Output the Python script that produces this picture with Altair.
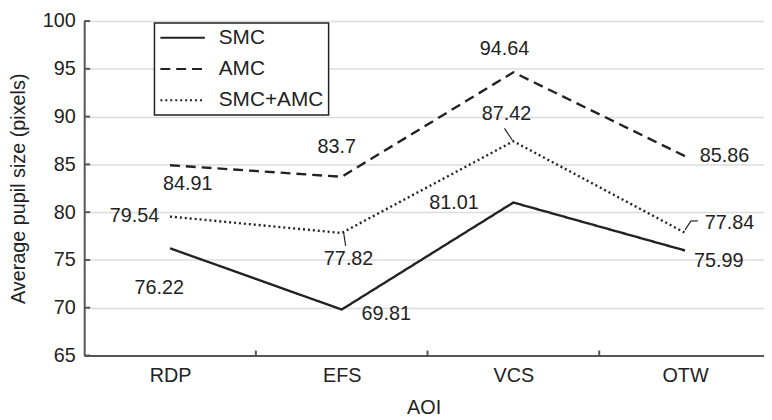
import json
import altair as alt
import pandas as pd

# ---------------- data ----------------
categories = ["RDP", "EFS", "VCS", "OTW"]
series_names = ["SMC", "AMC", "SMC+AMC"]
smc = [76.22, 69.81, 81.01, 75.99]
amc = [84.91, 83.7, 94.64, 85.86]
smc_amc = [79.54, 77.82, 87.42, 77.84]
y_ticks = [65, 70, 75, 80, 85, 90, 95, 100]
x_boundaries = [0.5, 1.5, 2.5]

# label placement: pixel offsets of each value label from its point
label_dx = {"SMC": [-11, 45, -60, 34], "AMC": [18, -5, -9, 40], "SMC+AMC": [-36, 7, -7, 45]}
label_dy = {"SMC": [40, 5, 1, 11], "AMC": [19, -30, -23, 0], "SMC+AMC": [0, 26, -27, -10]}
# leader lines: (series, category index, dx1, dy1, dx2, dy2) in pixels from the point
leaders = [
    ("SMC+AMC", 1, 2, 0, 4, 13),
    ("SMC+AMC", 2, -1, -1, -9, -13),
    ("SMC+AMC", 3, 0, -3, 6, -12),
    ("SMC+AMC", 3, 6, -12, 13, -12),
]

# ---------------- layout ----------------
W, H = 687, 338
Y_MIN, Y_MAX = 65, 100
X_MIN, X_MAX = -0.5, 3.46   # right end of the axis runs off the picture
px_x = W / (X_MAX - X_MIN)
px_y = H / (Y_MAX - Y_MIN)
FONT = "Liberation Sans"
INK = "#222222"
NBSP = "\u00a0"

values = {"SMC": smc, "AMC": amc, "SMC+AMC": smc_amc}

rows = []
for s in series_names:
    for i, c in enumerate(categories):
        v = values[s][i]
        rows.append({
            "series": s, "idx": i, "cat": c, "value": v,
            "label": str(v),
            "lx": i + label_dx[s][i] / px_x,
            "ly": v - label_dy[s][i] / px_y,
        })
df = pd.DataFrame(rows)

lead_rows = []
for s, i, dx1, dy1, dx2, dy2 in leaders:
    v = values[s][i]
    lead_rows.append({
        "x1": i + dx1 / px_x, "y1": v - dy1 / px_y,
        "x2": i + dx2 / px_x, "y2": v - dy2 / px_y,
    })
lead_df = pd.DataFrame(lead_rows)

xscale = alt.Scale(domain=[X_MIN, X_MAX], nice=False, zero=False)
yscale = alt.Scale(domain=[Y_MIN, Y_MAX], nice=False, zero=False)

label_expr = json.dumps(categories) + "[datum.value]"

x_axis = alt.Axis(
    values=[0, 1, 2, 3], labelExpr=label_expr, grid=False, tickSize=0,
    labelPadding=10.5, labelFontSize=20, labelColor=INK, labelFlush=False,
    title="AOI", titleFontSize=20, titleFontWeight="normal", titleColor=INK,
    titlePadding=12, titleX=343, domainColor="#555555", domainWidth=2)
y_axis = alt.Axis(
    values=y_ticks, grid=True, gridColor="#dcdcdc", gridWidth=1.5, tickSize=0,
    labelPadding=9, labelFontSize=20, labelColor=INK,
    title="Average pupil size (pixels)", titleFontSize=20, titleFontWeight="normal",
    titleColor=INK, titlePadding=14, domainColor="#555555", domainWidth=2)

lines = alt.Chart(df).mark_line(strokeWidth=2.4, color=INK).encode(
    x=alt.X("idx:Q", scale=xscale, axis=x_axis),
    y=alt.Y("value:Q", scale=yscale, axis=y_axis),
    strokeDash=alt.StrokeDash("series:N", scale=alt.Scale(
        domain=series_names, range=[[1, 0], [10, 6], [2, 3]]),
        legend=alt.Legend(
            orient="none", legendX=71, legendY=2, title=None,
            symbolType="stroke", symbolSize=2025, symbolStrokeWidth=2,
            symbolStrokeColor=INK, labelFontSize=21, labelColor=INK, labelFont=FONT,
            labelOffset=13, padding=5, rowPadding=10.5, clipHeight=20,
            labelExpr="datum.label + '" + NBSP * 3 + "'",
            strokeColor=INK, fillColor="white")),
    detail="series:N",
    order="idx:Q",
)

texts = alt.Chart(df).mark_text(fontSize=20, font=FONT, color=INK).encode(
    x=alt.X("lx:Q", scale=xscale, axis=x_axis),
    y=alt.Y("ly:Q", scale=yscale, axis=y_axis),
    text="label:N",
)

leader_lines = alt.Chart(lead_df).mark_rule(color=INK, strokeWidth=1.2).encode(
    x=alt.X("x1:Q", scale=xscale, axis=x_axis),
    y=alt.Y("y1:Q", scale=yscale, axis=y_axis),
    x2="x2:Q",
    y2="y2:Q",
)

ytick_marks = alt.Chart(pd.DataFrame({"t": y_ticks})).mark_rule(
    color="#555555", strokeWidth=2).encode(
    y=alt.Y("t:Q", scale=yscale, axis=y_axis),
    x=alt.value(0),
    x2=alt.value(6),
)

xtick_marks = alt.Chart(pd.DataFrame({"b": x_boundaries})).mark_rule(
    color="#555555", strokeWidth=2).encode(
    x=alt.X("b:Q", scale=xscale, axis=x_axis),
    y=alt.value(H),
    y2=alt.value(H - 5),
)

chart = alt.layer(ytick_marks, xtick_marks, lines, leader_lines, texts).properties(
    width=W, height=H,
    padding={"left": 77, "top": 11, "right": 0, "bottom": 63},
    autosize=alt.AutoSizeParams(type="none"),
).configure_view(stroke=None).configure_axis(
    labelFont=FONT, titleFont=FONT
).configure_legend(strokeWidth=1.5)

chart.save("out.html", embed_options={"renderer": "svg", "actions": False})
